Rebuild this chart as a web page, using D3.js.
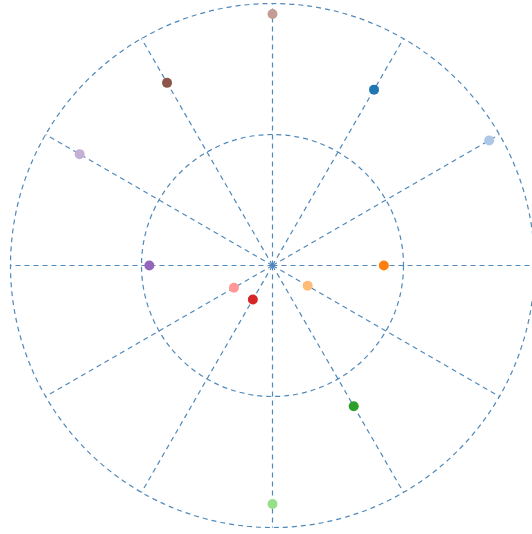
<!DOCTYPE html>
<html><head><meta charset="utf-8">
<script src="https://cdn.jsdelivr.net/npm/d3@7"></script>
<style>body{margin:0;background:#fff}svg{display:block}</style>
</head><body>
<script>
const angles = [60, 30, 0, 330, 300, 270, 240, 210, 180, 150, 120, 90];
const radii = [1.55, 1.91, 0.85, 0.31, 1.24, 1.82, 0.30, 0.34, 0.94, 1.70, 1.61, 1.92];
const colors = ["#1f77b4","#aec7e8","#ff7f0e","#ffbb78","#2ca02c","#98df8a","#d62728","#ff9896","#9467bd","#c5b0d5","#8c564b","#c49c94"];
const ringTicks = [1, 2];
const spokeAngles = d3.range(0, 360, 30);

const W = 532, H = 534, cx = 272.5, cy = 265.5;
const r = d3.scaleLinear().domain([0, 2]).range([0, 262]);
const svg = d3.select("body").append("svg").attr("width", W).attr("height", H);
const g = svg.append("g").attr("transform", `translate(${cx},${cy})`);

g.selectAll("circle.ring").data(ringTicks).enter().append("circle")
  .attr("class","ring").attr("r", d => r(d))
  .attr("fill","none").attr("stroke","#4f88ba").attr("stroke-width",1.2)
  .attr("stroke-dasharray","5,4");

g.selectAll("line.spoke").data(spokeAngles).enter().append("line")
  .attr("class","spoke")
  .attr("x2", d => r(2) * Math.cos(d*Math.PI/180))
  .attr("y2", d => -r(2) * Math.sin(d*Math.PI/180))
  .attr("stroke","#4f88ba").attr("stroke-width",1.2)
  .attr("stroke-dasharray","5,4");

g.selectAll("circle.pt").data(angles.map((a,i)=>({a, rv: radii[i], c: colors[i]})))
  .enter().append("circle").attr("class","pt")
  .attr("cx", d => r(d.rv) * Math.cos(d.a*Math.PI/180))
  .attr("cy", d => -r(d.rv) * Math.sin(d.a*Math.PI/180))
  .attr("r", 5).attr("fill", d => d.c);
</script>
</body></html>
